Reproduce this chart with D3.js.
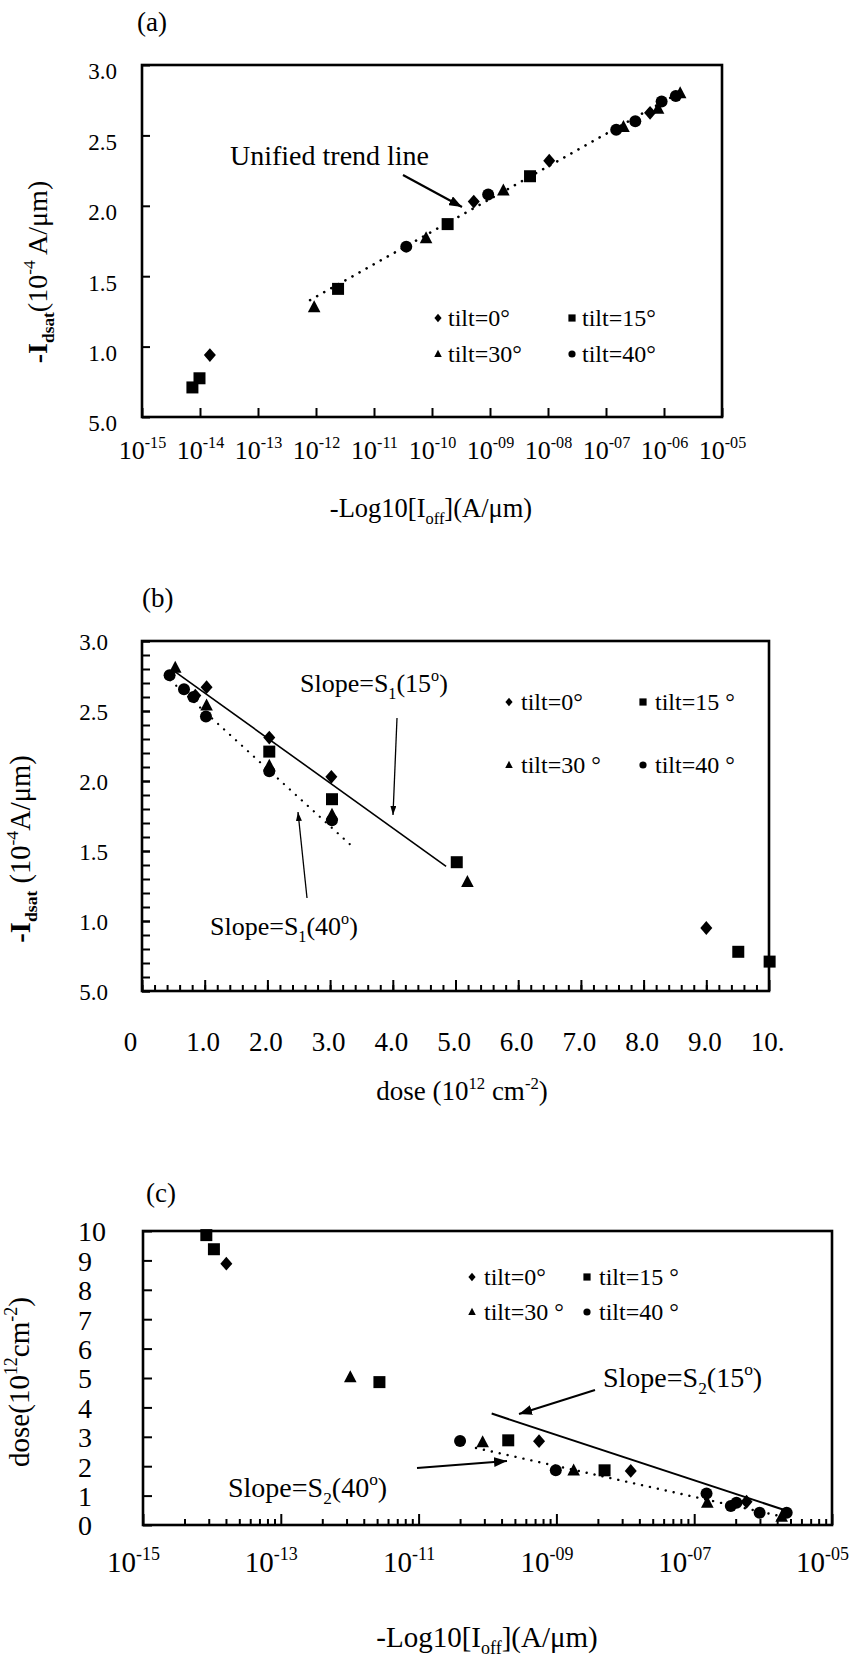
<!DOCTYPE html>
<html><head><meta charset="utf-8">
<script src="https://cdn.jsdelivr.net/npm/d3@7"></script>
<style>
body{margin:0;background:#fff}
svg{display:block;font-family:"Liberation Serif","Times New Roman",serif}
</style></head><body>
<svg id="chart" width="851" height="1659"></svg>
<script>
// ---------------- DATA ----------------
const legendLabelsA = ["tilt=0°", "tilt=15°", "tilt=30°", "tilt=40°"];
const legendLabelsBC = ["tilt=0°", "tilt=15 °", "tilt=30 °", "tilt=40 °"];

// Panel (a): [Ioff (A/um), -Idsat (1e-4 A/um)]
const aTilt0  = [[1.48e-14, 0.94], [5.25e-10, 2.03], [1.05e-8, 2.32], [5.75e-7, 2.66]];
const aTilt15 = [[7.4e-15, 0.71], [9.8e-15, 0.775], [2.4e-12, 1.41], [1.86e-10, 1.87], [4.9e-9, 2.21]];
const aTilt30 = [[9.3e-13, 1.28], [7.9e-11, 1.77], [1.7e-9, 2.11], [2.0e-7, 2.56], [7.9e-7, 2.69], [1.9e-6, 2.80]];
const aTilt40 = [[3.6e-11, 1.71], [9.3e-10, 2.08], [1.5e-7, 2.54], [3.2e-7, 2.60], [9.1e-7, 2.74], [1.6e-6, 2.78]];
const aTrend  = [[7.9e-13, 1.33], [1.78e-6, 2.80]];
const aXTicks = [1e-15,1e-14,1e-13,1e-12,1e-11,1e-10,1e-9,1e-8,1e-7,1e-6,1e-5];
const aXTickExp = ["-15","-14","-13","-12","-11","-10","-09","-08","-07","-06","-05"];
const aYTicks = [0.5, 1.0, 1.5, 2.0, 2.5, 3.0];
const aYTickLabels = ["5.0", "1.0", "1.5", "2.0", "2.5", "3.0"];

// Panel (b): [dose (1e12 cm^-2), -Idsat (1e-4 A/um)]
const bTilt0  = [[0.85, 2.61], [1.03, 2.67], [2.03, 2.31], [3.02, 2.03], [9.0, 0.95]];
const bTilt15 = [[2.03, 2.21], [3.03, 1.87], [5.02, 1.42], [9.51, 0.78], [10.01, 0.71]];
const bTilt30 = [[0.53, 2.81], [1.03, 2.54], [2.03, 2.11], [3.03, 1.76], [5.19, 1.28]];
const bTilt40 = [[0.44, 2.755], [0.67, 2.655], [0.82, 2.60], [1.02, 2.46], [2.03, 2.07], [3.03, 1.72]];
const bLine15 = [[0.53, 2.78], [4.85, 1.39]];
const bLine40 = [[0.45, 2.72], [3.36, 1.53]];
const bXTicks = [0,1,2,3,4,5,6,7,8,9,10];
const bXTickLabels = ["0","1.0","2.0","3.0","4.0","5.0","6.0","7.0","8.0","9.0","10."];
const bYTicks = [0.5, 1.0, 1.5, 2.0, 2.5, 3.0];
const bYTickLabels = ["5.0", "1.0", "1.5", "2.0", "2.5", "3.0"];

// Panel (c): [Ioff (A/um), dose (1e12 cm^-2)]
const cTilt0  = [[1.62e-14, 8.89], [5.6e-10, 2.85], [1.2e-8, 1.84], [5.75e-7, 0.79]];
const cTilt15 = [[8.3e-15, 9.86], [1.07e-14, 9.38], [2.7e-12, 4.86], [2.0e-10, 2.88], [5.0e-9, 1.86]];
const cTilt30 = [[1.02e-12, 5.03], [8.5e-11, 2.82], [1.78e-9, 1.86], [1.55e-7, 0.76], [1.86e-6, 0.28]];
const cTilt40 = [[4.0e-11, 2.86], [9.8e-10, 1.86], [1.51e-7, 1.07], [3.4e-7, 0.65], [4.1e-7, 0.76], [8.9e-7, 0.42], [2.2e-6, 0.42]];
const cLine15 = [[1.15e-10, 3.79], [2.04e-6, 0.51]];
const cLine40 = [[6.8e-11, 2.62], [1.95e-6, 0.28]];
const cXTicks = [1e-15,1e-13,1e-11,1e-9,1e-7,1e-5];
const cXTickExp = ["-15","-13","-11","-09","-07","-05"];
const cYTicks = [0,1,2,3,4,5,6,7,8,9,10];
const cYTickLabels = ["0","1","2","3","4","5","6","7","8","9","10"];

// ---------------- DRAW ----------------
const svg = d3.select("#chart");
svg.append("rect").attr("width",851).attr("height",1659).attr("fill","#fff");
const defs = svg.append("defs");
function mkArrow(id, w, h){
  defs.append("marker").attr("id",id).attr("viewBox",`0 0 ${w} ${h}`)
    .attr("refX",w).attr("refY",h/2).attr("markerWidth",w).attr("markerHeight",h)
    .attr("markerUnits","userSpaceOnUse").attr("orient","auto")
    .append("path").attr("d",`M0,0L${w},${h/2}L0,${h}Z`).attr("fill","#000");
}
mkArrow("arrBig", 13, 10);
mkArrow("arrSmall", 9, 6);

const shapes = ["diamond","square","triangle","circle"];
function shapePath(type, s){
  if(type==="diamond") return `M0,${-s*1.15}L${s},0L0,${s*1.15}L${-s},0Z`;
  if(type==="square") return `M${-s},${-s}h${2*s}v${2*s}h${-2*s}Z`;
  if(type==="triangle") return `M0,${-s*1.15}L${s*1.05},${s*0.85}L${-s*1.05},${s*0.85}Z`;
  return `M${s},0A${s},${s} 0 1,1 ${-s},0A${s},${s} 0 1,1 ${s},0Z`;
}
function rich(sel, parts, fs){
  let prev = 0;
  parts.forEach(([t,m])=>{
    let shift = m==="sup" ? -0.42*fs : m==="sub" ? 0.25*fs : 0;
    sel.append("tspan").attr("dy", shift-prev)
      .attr("font-size", m ? fs*0.62 : fs).text(t);
    prev = shift;
  });
}
function cleanAxis(a){
  a.attr("font-family",null).attr("font-size",null);
  a.select(".domain").remove();
  a.selectAll("line").attr("stroke-width",2).attr("stroke","#000");
}

function panel(o){
  const g = svg.append("g");
  const x = o.xLog ? d3.scaleLog().domain(o.xDom).range([o.L,o.R])
                   : d3.scaleLinear().domain(o.xDom).range([o.L,o.R]);
  const y = d3.scaleLinear().domain(o.yDom).range([o.B,o.T]);

  if(o.xMinor){
    g.append("g").attr("transform",`translate(0,${o.B})`)
      .call(d3.axisBottom(x).tickValues(o.xMinor).tickSize(-o.xMinorLen).tickFormat(""))
      .call(cleanAxis);
  }
  if(o.yMinor){
    g.append("g").attr("transform",`translate(${o.L},0)`)
      .call(d3.axisLeft(y).tickValues(o.yMinor).tickSize(-o.yTickLen).tickFormat(""))
      .call(cleanAxis);
  }
  const xa = g.append("g").attr("transform",`translate(0,${o.B})`)
    .call(d3.axisBottom(x).tickValues(o.xTicks).tickSize(-o.xTickLen).tickFormat(""))
    .call(cleanAxis);
  xa.selectAll("text").each(function(d,i){
    const t = d3.select(this).attr("font-size",o.xFs).attr("y",o.xLabY).attr("dy","0.35em")
      .attr("dx", o.xLabDx ? o.xLabDx(i) : 0).attr("fill","#000");
    t.text(null);
    if(o.xExp){ rich(t, [["10",""],[o.xExp[i],"sup"]], o.xFs); }
    else { t.text(o.xLabels[i]); }
  });
  const ya = g.append("g").attr("transform",`translate(${o.L},0)`)
    .call(d3.axisLeft(y).tickValues(o.yTicks).tickSize(-o.yTickLen).tickPadding(o.yPad).tickFormat((d,i)=>o.yLabels[i]))
    .call(cleanAxis);
  ya.selectAll("text").attr("font-size",o.yFs).attr("fill","#000").attr("dy", o.yDy || "0.35em");
  if(o.yLeftAlign){ ya.selectAll("text").attr("text-anchor","start").attr("x", o.yLeftAlign - o.L); }

  g.append("rect").attr("x",o.L).attr("y",o.T).attr("width",o.R-o.L).attr("height",o.B-o.T)
    .attr("fill","none").attr("stroke","#000").attr("stroke-width",2.6);

  const line = d3.line().x(d=>x(d[0])).y(d=>y(d[1]));
  (o.lines||[]).forEach(l=>{
    g.append("path").attr("d",line(l.data)).attr("fill","none").attr("stroke","#000")
      .attr("stroke-width",l.w).attr("stroke-dasharray",l.dash||null).attr("stroke-linecap", l.dash ? "round":"butt");
  });

  o.series.forEach((s,si)=>{
    g.append("g").selectAll("path").data(s).join("path")
      .attr("transform",d=>`translate(${x(d[0])},${y(d[1])})`)
      .attr("d",shapePath(shapes[si], o.mSize)).attr("fill","#000");
  });

  const lg = o.legend;
  lg.labels.forEach((lab,i)=>{
    const cx = lg.x[i%2], cy = lg.y[Math.floor(i/2)];
    g.append("path").attr("transform",`translate(${cx},${cy})`).attr("d",shapePath(shapes[i],lg.ms)).attr("fill","#000");
    g.append("text").attr("x",cx+lg.gap).attr("y",cy).attr("dy","0.35em").attr("font-size",lg.fs).text(lab);
  });

  g.append("text").attr("x",o.tag[0]).attr("y",o.tag[1]).attr("font-size",o.tagFs).attr("dy","0.35em").text(o.tagText);

  const xt = g.append("text").attr("x",o.xTitle.x).attr("y",o.xTitle.y).attr("text-anchor","middle")
    .attr("font-size",o.xTitle.fs).attr("dy","0.35em");
  rich(xt, o.xTitle.parts, o.xTitle.fs);
  const yt = g.append("text").attr("transform",`translate(${o.yTitle.x},${o.yTitle.y}) rotate(-90)`)
    .attr("text-anchor","middle").attr("font-size",o.yTitle.fs).attr("dy","0.35em");
  rich(yt, o.yTitle.parts, o.yTitle.fs);
  if(o.yTitle.bold) yt.selectAll("tspan").filter((d,i)=>i<2).attr("font-weight","bold");

  (o.notes||[]).forEach(n=>{
    const t = g.append("text").attr("x",n.x).attr("y",n.y).attr("font-size",n.fs);
    rich(t, n.parts, n.fs);
  });
  (o.arrows||[]).forEach(a=>{
    g.append("line").attr("x1",a[0]).attr("y1",a[1]).attr("x2",a[2]).attr("y2",a[3])
      .attr("stroke","#000").attr("stroke-width",a[4]).attr("marker-end",`url(#${a[5]})`);
  });
  return {x,y};
}

// ---- Panel (a)
panel({
  L:142, R:722, T:65, B:417, xLog:true, xDom:[1e-15,1e-5], yDom:[0.5,3.0],
  xTicks:aXTicks, xExp:aXTickExp, xTickLen:9, xLabY:42, xFs:26,
  yTicks:aYTicks, yLabels:aYTickLabels, yTickLen:8, yPad:25, yFs:23, yDy:"0.6em",
  series:[aTilt0,aTilt15,aTilt30,aTilt40], mSize:6,
  lines:[{data:aTrend, w:2.6, dash:"0.1 8"}],
  legend:{labels:legendLabelsA, x:[438,572], y:[318,354], ms:3.6, gap:10, fs:24},
  tag:[137,22], tagText:"(a)", tagFs:27,
  xTitle:{x:431, y:517, fs:26.5, parts:[["-Log10[I",""],["off","sub"],["](A/μm)",""]]},
  yTitle:{x:47, y:272, fs:28, bold:true, parts:[["-I",""],["dsat","sub"],["(10",""],["-4","sup"],[" A/μm)",""]]},
  notes:[{x:230, y:165, fs:28, parts:[["Unified trend line",""]]}],
  arrows:[[403,175,462,207,2.2,"arrBig"]]
});

// ---- Panel (b)
panel({
  L:142, R:769, T:641, B:991, xLog:false, xDom:[0,10], yDom:[0.5,3.0],
  xTicks:bXTicks, xLabels:bXTickLabels, xTickLen:11, xLabY:51, xFs:27,
  xLabDx:(i)=> i===0 ? -12 : -2,
  xMinor:d3.range(0,50).map(v=>v/5), xMinorLen:6,
  yTicks:bYTicks, yLabels:bYTickLabels, yTickLen:8, yPad:34, yFs:23,
  yMinor:d3.range(5,31).map(v=>v/10),
  series:[bTilt0,bTilt15,bTilt30,bTilt40], mSize:6,
  lines:[{data:bLine15, w:1.6}, {data:bLine40, w:2.2, dash:"0.1 8"}],
  legend:{labels:legendLabelsBC, x:[509,643], y:[702,765], ms:3.6, gap:12, fs:24},
  tag:[142,598], tagText:"(b)", tagFs:27,
  xTitle:{x:462, y:1100, fs:27, parts:[["dose (10",""],["12","sup"],[" cm",""],["-2","sup"],[")",""]]},
  yTitle:{x:30, y:849, fs:28.5, bold:true, parts:[["-I",""],["dsat","sub"],[" (10",""],["-4","sup"],["A/μm)",""]]},
  notes:[{x:300, y:692, fs:26, parts:[["Slope=S",""],["1","sub"],["(15",""],["o","sup"],[")",""]]},
         {x:210, y:935, fs:26, parts:[["Slope=S",""],["1","sub"],["(40",""],["o","sup"],[")",""]]}],
  arrows:[[397,718,393,815,1.3,"arrSmall"],[307,898,298,812,1.3,"arrSmall"]]
});

// ---- Panel (c)
const cMinor = [];
[-15,-13,-11,-9,-7].forEach(e=>{ for(let k=2;k<=9;k++) cMinor.push(k*k*Math.pow(10,e)); });
panel({
  L:143, R:832, T:1231, B:1525, xLog:true, xDom:[1e-15,1e-5], yDom:[0,10],
  xTicks:cXTicks, xExp:cXTickExp, xTickLen:11, xLabY:47, xFs:29,
  xLabDx:()=>-10,
  xMinor:cMinor, xMinorLen:6,
  yTicks:cYTicks, yLabels:cYTickLabels, yTickLen:9, yPad:30, yFs:28, yLeftAlign:78,
  series:[cTilt0,cTilt15,cTilt30,cTilt40], mSize:6,
  lines:[{data:cLine15, w:2}, {data:cLine40, w:2.4, dash:"0.1 8"}],
  legend:{labels:legendLabelsBC, x:[472,587], y:[1277,1312], ms:3.6, gap:12, fs:24},
  tag:[146,1193], tagText:"(c)", tagFs:27,
  xTitle:{x:487, y:1647, fs:29, parts:[["-Log10[I",""],["off","sub"],["](A/μm)",""]]},
  yTitle:{x:29, y:1382, fs:29, parts:[["dose(10",""],["12","sup"],["cm",""],["-2","sup"],[")",""]]},
  notes:[{x:603, y:1387, fs:28, parts:[["Slope=S",""],["2","sub"],["(15",""],["o","sup"],[")",""]]},
         {x:228, y:1497, fs:28, parts:[["Slope=S",""],["2","sub"],["(40",""],["o","sup"],[")",""]]}],
  arrows:[[595,1390,519,1414,2,"arrBig"],[417,1468,507,1461,2,"arrBig"]]
});
</script>
</body></html>
